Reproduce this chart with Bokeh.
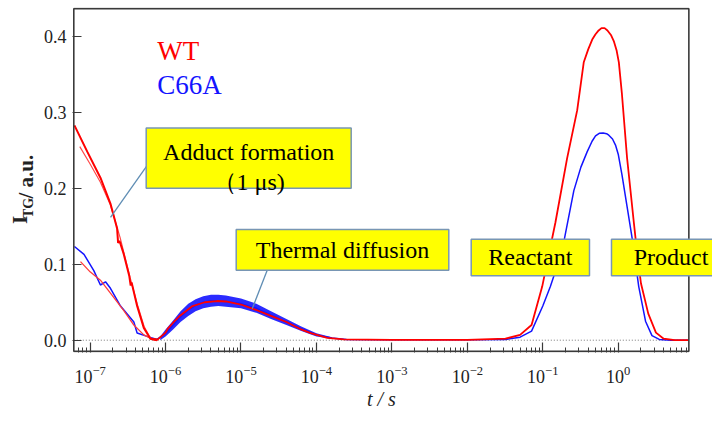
import math
from bokeh.plotting import figure
from bokeh.layouts import row
from bokeh.models import (FixedTicker, LogTickFormatter, PrintfTickFormatter,
                          Label, BoxAnnotation, Range1d, Title)
from bokeh.embed import file_html
from bokeh.resources import INLINE

# ---------------- data ----------------
# WT (red): fast "adduct formation" decay, early time data
wt_fast_t = [6.2e-8, 9.2e-8, 1.37e-7, 1.86e-7, 2.28e-7, 2.35e-7, 2.45e-7, 2.8e-7,
             3.3e-7, 3.45e-7, 3.55e-7, 4.2e-7, 5.15e-7, 6.3e-7, 7.7e-7]
wt_fast_i = [0.283, 0.248, 0.214, 0.180, 0.147, 0.128, 0.131, 0.113,
             0.085, 0.072, 0.076, 0.045, 0.016, 0.002, 0.000]
# WT fit of the fast decay
wt_fit_t = [7.3e-8, 1.0e-7, 1.37e-7, 1.86e-7, 2.5e-7, 3.4e-7, 4.2e-7, 5.2e-7, 6.3e-7, 7.5e-7]
wt_fit_i = [0.255, 0.232, 0.208, 0.178, 0.135, 0.082, 0.048, 0.018, 0.003, 0.000]
# red fit of the C66A early decay
c66a_fit_t = [7.46e-8, 1.0e-7, 1.37e-7, 1.86e-7, 2.8e-7, 3.8e-7, 5.15e-7, 6.98e-7, 8.0e-7]
c66a_fit_i = [0.1035, 0.090, 0.079, 0.062, 0.039, 0.020, 0.007, 0.0005, 0.000]

# WT main trace: thermal diffusion + reactant/product signal
wt_t = [6.3e-7, 7.9e-7, 1.0e-6, 1.08e-6, 1.26e-6, 1.57e-6, 2.28e-6, 3.3e-6, 4.8e-6,
        6.3e-6, 1.0e-5, 1.48e-5, 2.5e-5, 4.0e-5, 6.0e-5, 8.4e-5, 1.39e-4, 2.3e-4,
        1.0e-3, 1.0e-2, 0.032, 0.05, 0.071, 0.0982, 0.147, 0.21, 0.286, 0.349,
        0.40, 0.452, 0.50, 0.55, 0.60, 0.66, 0.72, 0.80, 0.873, 0.95, 1.019, 1.12,
        1.31, 1.61, 1.78, 2.0, 2.5, 3.16, 4.0, 5.6, 8.6]
wt_i = [0.002, 0.001, 0.010, 0.0157, 0.023, 0.0326, 0.045, 0.050, 0.0516,
        0.051, 0.047, 0.041, 0.032, 0.024, 0.015, 0.0094, 0.003, 0.001,
        0.0003, 0.0005, 0.002, 0.007, 0.020, 0.0706, 0.155, 0.2395, 0.303, 0.366,
        0.383, 0.396, 0.403, 0.408, 0.411, 0.411, 0.408, 0.402, 0.394, 0.382, 0.366, 0.324,
        0.240, 0.155, 0.115, 0.075, 0.035, 0.010, 0.002, 0.000, 0.000]

# C66A (blue) main trace
c66a_t = [6.2e-8, 8.3e-8, 1.12e-7, 1.37e-7, 1.6e-7, 1.86e-7, 2.53e-7, 3.8e-7, 4.2e-7,
          5.7e-7, 7.7e-7, 1.0e-6, 1.26e-6, 1.58e-6, 2.0e-6, 2.5e-6, 3.16e-6, 4.0e-6,
          5.0e-6, 6.3e-6, 1.0e-5, 1.6e-5, 2.5e-5, 4.0e-5, 6.3e-5, 1.0e-4, 1.6e-4,
          2.5e-4, 1.0e-3, 1.0e-2, 0.032, 0.05, 0.071, 0.1, 0.126, 0.158, 0.194,
          0.258, 0.32, 0.387, 0.45, 0.50, 0.56, 0.63, 0.70, 0.75, 0.84, 0.92, 1.0,
          1.12, 1.31, 1.53, 1.87, 2.3, 2.8, 3.5, 5.0, 8.6]
c66a_i = [0.1234, 0.113, 0.0917, 0.0727, 0.0769, 0.0684, 0.045, 0.024, 0.0094,
          0.005, 0.001, 0.009, 0.020, 0.031, 0.040, 0.046, 0.050, 0.052,
          0.052, 0.051, 0.048, 0.042, 0.033, 0.024, 0.015, 0.007, 0.003,
          0.001, 0.0005, 0.0005, 0.001, 0.004, 0.012, 0.045, 0.0706, 0.100, 0.134,
          0.197, 0.228, 0.248, 0.262, 0.269, 0.2725, 0.273, 0.272, 0.270, 0.265, 0.257, 0.245,
          0.218, 0.176, 0.134, 0.0706, 0.025, 0.006, 0.001, 0.000, 0.000]
# noise envelope of the C66A thermal-diffusion signal
c66a_band_t = [8.5e-7, 1.0e-6, 1.26e-6, 1.58e-6, 2.0e-6, 2.5e-6, 3.16e-6, 4.0e-6, 5.0e-6,
               6.3e-6, 1.0e-5, 1.6e-5, 2.5e-5, 4.0e-5, 6.3e-5, 1.0e-4, 1.6e-4]
c66a_band_hi = [0.005, 0.014, 0.026, 0.038, 0.048, 0.054, 0.058, 0.060, 0.060,
                0.059, 0.055, 0.048, 0.038, 0.028, 0.018, 0.009, 0.004]
c66a_band_lo = [0.000, 0.005, 0.014, 0.024, 0.032, 0.038, 0.042, 0.044, 0.045,
                0.044, 0.042, 0.036, 0.028, 0.020, 0.012, 0.005, 0.002]

x_major_ticks = [1e-7, 1e-6, 1e-5, 1e-4, 1e-3, 1e-2, 1e-1, 1e0]
y_ticks = [0.0, 0.1, 0.2, 0.3, 0.4]

# ---------------- styling constants ----------------
X0, X_EDGE = 6.08e-8, 8.63          # drawn plot-box limits (t)
Y0, Y1 = -0.0147, 0.4367            # drawn plot-box limits (I)
XR0, XR1 = 5.844e-8, 17.76          # range of the frame
YR0, YR1 = -0.0162, 0.4382
SERIF = "Liberation Serif"
AX = "#3a3a3a"
RED = "#ff0000"
BLUE = "#1414ff"
BOXLINE = "#7896b4"
INK = "#222222"

# ---------------- main figure ----------------
p = figure(width=672, height=412, x_axis_type="log",
           x_range=Range1d(XR0, XR1), y_range=Range1d(YR0, YR1),
           output_backend="svg", toolbar_location=None,
           min_border_left=32, min_border_right=0, min_border_top=7, min_border_bottom=60)
p.grid.visible = False
p.background_fill_color = "white"
p.border_fill_color = "white"
p.outline_line_color = None

minor = [m * 10.0 ** k for k in range(-9, 1) for m in range(2, 10)]
minor = [v for v in minor if X0 <= v <= X_EDGE]
p.xaxis.ticker = FixedTicker(ticks=x_major_ticks, minor_ticks=minor)
p.xaxis.formatter = LogTickFormatter()
p.yaxis.ticker = FixedTicker(ticks=y_ticks, minor_ticks=[])
p.yaxis.formatter = PrintfTickFormatter(format="%.1f")
for ax in (p.xaxis, p.yaxis):
    ax.axis_line_color = None
    ax.major_tick_line_color = AX
    ax.minor_tick_line_color = AX
    ax.major_tick_line_width = 1.2
    ax.minor_tick_line_width = 1.0
    ax.major_tick_out = 0
    ax.minor_tick_out = 0
    ax.major_label_text_font = SERIF
    ax.major_label_text_font_size = "18px"
    ax.major_label_text_color = INK
p.xaxis.major_tick_in = 10
p.xaxis.minor_tick_in = 5
p.xaxis.major_label_standoff = 13
p.yaxis.major_tick_in = 9
p.yaxis.minor_tick_in = 0
p.yaxis.major_label_standoff = 6

# x-axis title (left-aligned with an offset so it is centred under the drawn box)
p.add_layout(Title(text="t / s", align="left", offset=294.5, text_font=SERIF,
                   text_font_size="20px", text_font_style="italic",
                   text_color=INK, standoff=0), "below")

# zero line
p.segment(x0=[X0], y0=[0.0], x1=[X_EDGE], y1=[0.0], line_color="#777777",
          line_dash="1 2", line_width=1)

# ---------------- curves ----------------
p.varea(x=c66a_band_t, y1=c66a_band_lo, y2=c66a_band_hi, fill_color=BLUE, fill_alpha=0.9)
p.line(c66a_t, c66a_i, line_color=BLUE, line_width=1.5)
p.line(c66a_fit_t, c66a_fit_i, line_color="#ff3b3b", line_width=1.3)
p.line(wt_fit_t, wt_fit_i, line_color="#ff4a4a", line_width=1.2)
p.line(wt_fast_t, wt_fast_i, line_color=RED, line_width=2)
p.line(wt_t, wt_i, line_color=RED, line_width=1.8)

# callout lines (annotation geometry)
call_x0 = [5.59e-7, 2.225e-5]
call_y0 = [0.2290, 0.0921]
call_x1 = [1.864e-7, 1.408e-5]
call_y1 = [0.1618, 0.0414]
p.segment(x0=call_x0, y0=call_y0, x1=call_x1, y1=call_y1, line_color="#5f8db4", line_width=1.3)

# plot box
p.add_layout(BoxAnnotation(left=X0, right=X_EDGE, top=Y1, bottom=Y0, fill_color=None,
                           fill_alpha=0, line_color=AX, line_width=1.6, line_alpha=1.0))

# ---------------- annotation boxes ----------------
boxes = [
    (5.54e-7, 2.888e-4, 0.2796, 0.2002),
    (8.64e-6, 5.68e-3, 0.1457, 0.0921),
    (0.01125, 0.416, 0.1330, 0.0849),
    (0.814, 40.0, 0.1330, 0.0849),
]
for (l, r, t, b) in boxes:
    p.add_layout(BoxAnnotation(left=l, right=r, top=t, bottom=b, fill_color="#ffff00",
                               fill_alpha=1.0, line_color=BOXLINE, line_width=1.5,
                               line_alpha=1.0))


def txt(fig, x, y, s, size="24px", align="center", baseline="middle", color="black", **kw):
    fig.add_layout(Label(x=x, y=y, text=s, text_font=SERIF, text_font_size=size,
                         text_align=align, text_baseline=baseline, text_color=color, **kw))


txt(p, 1.265e-5, 0.2480, "Adduct formation", baseline="alphabetic")
txt(p, 1.265e-5, 0.2078, "（1 μs)", baseline="alphabetic")
txt(p, 2.215e-4, 0.1189, "Thermal diffusion")
txt(p, 0.0684, 0.1090, "Reactant")
txt(p, 5.0, 0.1090, "Product")

# legend texts
txt(p, 7.74e-7, 0.381, "WT", size="27px", align="left", baseline="alphabetic", color=RED)
txt(p, 7.74e-7, 0.3367, "C66A", size="27px", align="left", baseline="alphabetic", color=BLUE)

# ---------------- left strip carrying the y-axis title ----------------
strip = figure(width=40, height=412, x_range=Range1d(0, 40), y_range=Range1d(0, 412),
               output_backend="svg", toolbar_location=None,
               x_axis_location=None, y_axis_location=None,
               min_border_left=0, min_border_right=0, min_border_top=0, min_border_bottom=0)
strip.outline_line_color = None
strip.grid.visible = False
strip.background_fill_color = "white"
strip.border_fill_color = "white"
txt(strip, 19.9, 158.4, "I", size="21px", angle=math.pi / 2,
    text_font_style="bold", color=INK)
txt(strip, 28.3, 172.6, "TG", size="14px", angle=math.pi / 2,
    text_font_style="bold", color=INK)
txt(strip, 25.9, 209.9, "/ a.u.", size="21px", angle=math.pi / 2,
    text_font_style="bold", color=INK)

layout = row(strip, p)
open("out.html", "w").write(file_html(layout, INLINE))
